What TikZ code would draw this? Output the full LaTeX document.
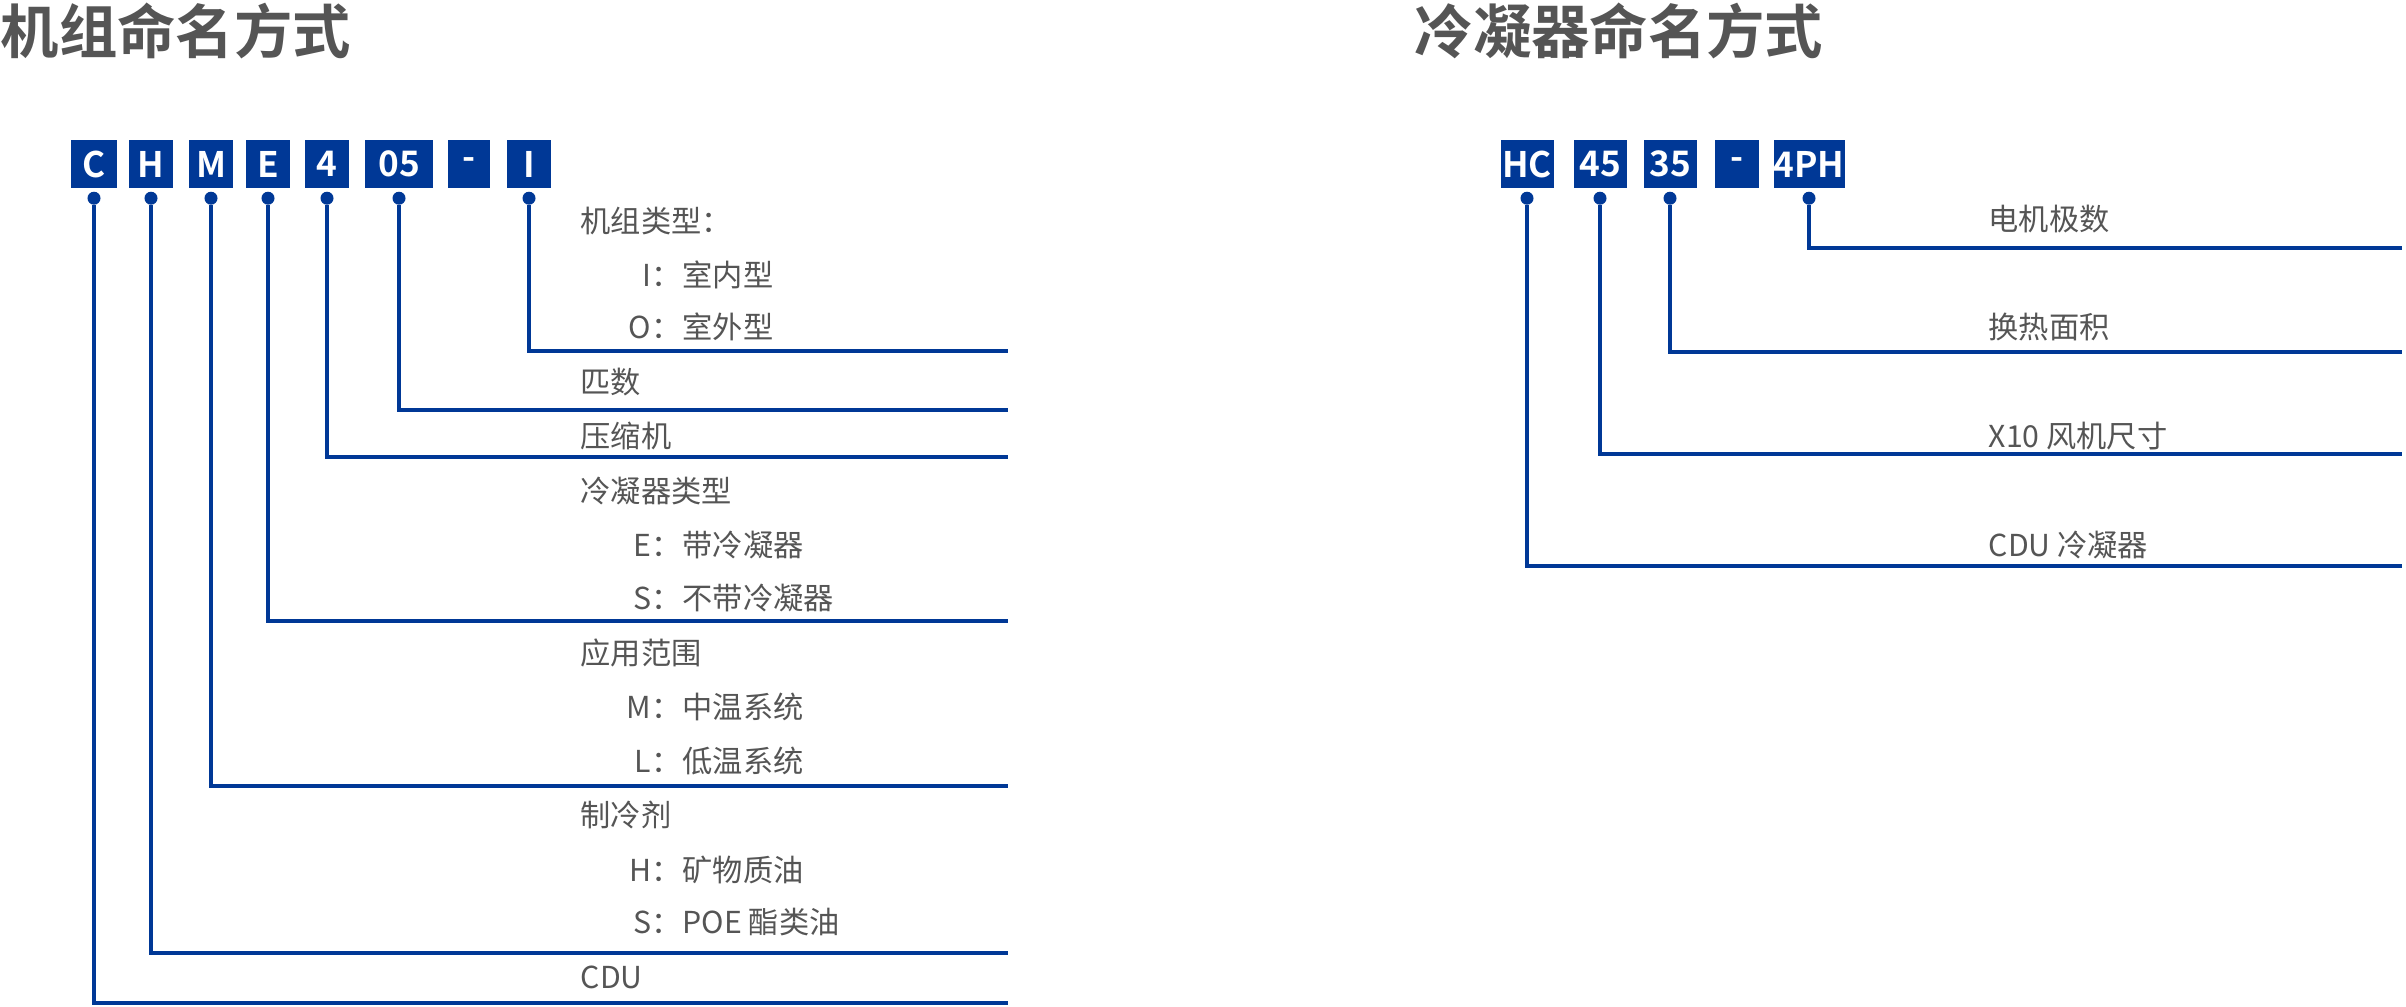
\documentclass[tikz,border=0pt]{standalone}
\usepackage{fontspec}
\setmainfont{Noto Sans CJK SC}
\newfontfamily\boldcjk{Noto Sans CJK SC Bold}
\usetikzlibrary{positioning}
\definecolor{codeblue}{HTML}{003896}
\definecolor{labelgray}{HTML}{555555}
\tikzset{
  codebox/.style={fill=codeblue,text=white,inner sep=0pt,minimum height=0.47cm,font=\boldcjk\fontsize{10}{11}\selectfont},
  pin/.style={circle,fill=codeblue,inner sep=0pt,minimum size=0.13cm},
  lead/.style={codeblue,line width=0.9pt},
  lbl/.style={anchor=west,text=labelgray,inner sep=0pt,font=\fontsize{8.6}{10}\selectfont},
  key/.style={anchor=east,text=labelgray,inner sep=0pt,font=\fontsize{8.6}{10}\selectfont},
  heading/.style={anchor=west,text=labelgray,inner sep=0pt,font=\boldcjk\fontsize{16.6}{18}\selectfont}
}
\begin{document}
\begin{tikzpicture}[x=0.01cm,y=-0.01cm]
        \useasboundingbox (0,0) rectangle (2406,1006);
        % titles
        \node[heading] (tl) at (0,31) {机组命名方式};
        \node[heading] (tr) at (1414,31) {冷凝器命名方式};
        % unit code boxes
        \node[codebox,minimum width=0.45cm] (bC) at (94,164) {C};
        \node[codebox,minimum width=0.43cm] (bH) at (151,164) {H};
        \node[codebox,minimum width=0.43cm] (bM) at (211,164) {M};
        \node[codebox,minimum width=0.43cm] (bE) at (268,164) {E};
        \node[codebox,minimum width=0.43cm] (b4) at (327,164) {4};
        \node[codebox,minimum width=0.67cm] (b05) at (399,164) {05};
        \node[codebox,minimum width=0.42cm] (bD) at (469,164) {-};
        \node[codebox,minimum width=0.43cm] (bI) at (529,164) {I};
        % condenser code boxes
        \node[codebox,minimum width=0.53cm] (cHC) at (1527,164) {HC};
        \node[codebox,minimum width=0.53cm] (c45) at (1600,164) {45};
        \node[codebox,minimum width=0.53cm] (c35) at (1670,164) {35};
        \node[codebox,minimum width=0.44cm] (cD) at (1737,164) {-};
        \node[codebox,minimum width=0.71cm] (c4PH) at (1809,164) {4PH};
        % pins below boxes
        \foreach \b in {bC,bH,bM,bE,b4,b05,bI,cHC,c45,c35,c4PH}
          \node[pin] (p\b) at ([yshift=-0.1cm]\b.south) {};
        % line ends
        \coordinate (eI) at (1008,351);
        \coordinate (e05) at (1008,410);
        \coordinate (e4) at (1008,457);
        \coordinate (eE) at (1008,621);
        \coordinate (eM) at (1008,786);
        \coordinate (eH) at (1008,953);
        \coordinate (eC) at (1008,1003);
        \coordinate (f4PH) at (2402,248);
        \coordinate (f35) at (2402,352);
        \coordinate (f45) at (2402,454);
        \coordinate (fHC) at (2402,566);
        \draw[lead] (pbI) |- (eI);
        \draw[lead] (pb05) |- (e05);
        \draw[lead] (pb4) |- (e4);
        \draw[lead] (pbE) |- (eE);
        \draw[lead] (pbM) |- (eM);
        \draw[lead] (pbH) |- (eH);
        \draw[lead] (pbC) |- (eC);
        \draw[lead] (pc4PH) |- (f4PH);
        \draw[lead] (pc35) |- (f35);
        \draw[lead] (pc45) |- (f45);
        \draw[lead] (pcHC) |- (fHC);
        % unit labels
        \node[lbl] (t1) at (580,221) {机组类型：};
        \node[key] (k1) at (682,275) {I：};
        \node[lbl] (t2) at (682,275) {室内型};
        \node[key] (k2) at (682,327) {O：};
        \node[lbl] (t3) at (682,327) {室外型};
        \node[lbl] (t4) at (580,382) {匹数};
        \node[lbl] (t5) at (580,436) {压缩机};
        \node[lbl] (t6) at (580,491) {冷凝器类型};
        \node[key] (k6) at (682,545) {E：};
        \node[lbl] (t7) at (682,545) {带冷凝器};
        \node[key] (k7) at (682,598) {S：};
        \node[lbl] (t8) at (682,598) {不带冷凝器};
        \node[lbl] (t9) at (580,653) {应用范围};
        \node[key] (k9) at (682,707) {M：};
        \node[lbl] (t10) at (682,707) {中温系统};
        \node[key] (k10) at (682,761) {L：};
        \node[lbl] (t11) at (682,761) {低温系统};
        \node[lbl] (t12) at (580,815) {制冷剂};
        \node[key] (k12) at (682,870) {H：};
        \node[lbl] (t13) at (682,870) {矿物质油};
        \node[key] (k13) at (682,922) {S：};
        \node[lbl] (t14) at (682,922) {POE 酯类油};
        \node[lbl] (t15) at (580,977) {CDU};
        % condenser labels
        \node[lbl] (u1) at (1988,219) {电机极数};
        \node[lbl] (u2) at (1988,327) {换热面积};
        \node[lbl] (u3) at (1988,436) {X10 风机尺寸};
        \node[lbl] (u4) at (1988,545) {CDU 冷凝器};
\end{tikzpicture}
\end{document}
